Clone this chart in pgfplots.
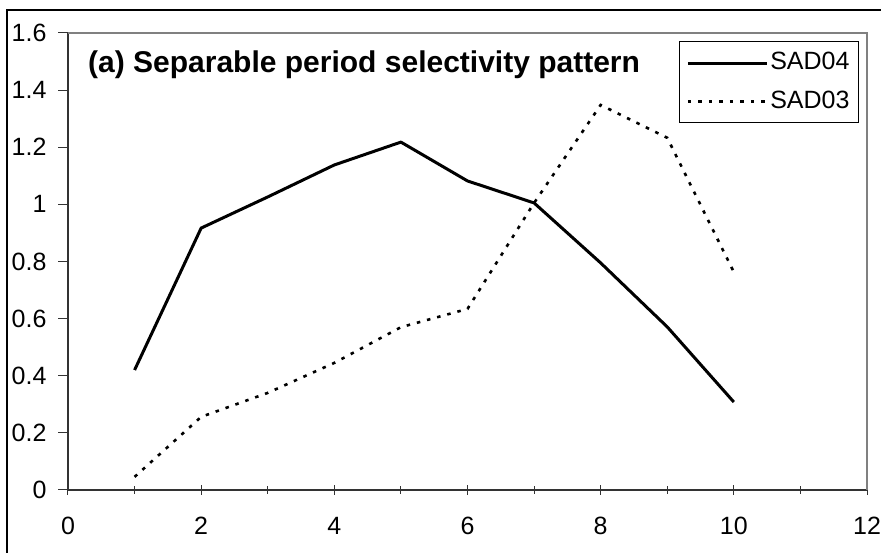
\documentclass[border=0pt]{standalone}
\usepackage{fontspec}
\setmainfont{Liberation Sans}
\usepackage{pgfplots}
\pgfplotsset{compat=1.18}
\begin{document}
\fontsize{25}{30}\selectfont
\begin{tikzpicture}
\useasboundingbox (-68pt,-63pt) rectangle (813pt,490pt);
\draw[line width=1.5pt] (-61pt,-80pt) -- (-61pt,480pt) -- (830pt,480pt);
\begin{axis}[
  at={(0pt,0pt)}, anchor=south west,
  scale only axis, width=799pt, height=457pt,
  xmin=0, xmax=12, ymin=0, ymax=1.6,
  xtick={0,2,...,12}, ytick={0,0.2,...,1.6},
  minor x tick num=1,
  axis x line*=bottom, axis y line*=left,
  axis line style={line width=1.2pt, color=black!80, -},
  xtick align=center, ytick align=outside,
  major tick length=10pt, minor tick length=8pt,
  tick style={line width=1pt, color=black!80},
  every tick label/.append style={font=\fontsize{25}{30}\selectfont},
  /pgf/number format/assume math mode=true,
  yticklabel style={/pgf/number format/fixed, /pgf/number format/precision=1},
  xticklabel style={yshift=-14pt},
  yticklabel style={xshift=-3pt},
  legend style={at={(0.99,0.98249)}, anchor=north east, draw=black, line width=1pt,
    font=\fontsize{25}{30}\selectfont, row sep=13pt, inner xsep=7pt, inner ysep=9pt},
  legend cell align=left,
  legend image code/.code={\draw[#1] (0pt,0pt) -- (79pt,0pt);},
  clip=false,
]
\draw[gray, line width=1.2pt] (rel axis cs:0,1) -- (rel axis cs:1,1) -- (rel axis cs:1,0);
\addplot[black, line width=3pt, line join=round] coordinates {
 (1,0.42) (2,0.917) (3,1.026) (4,1.138) (5,1.218) (6,1.082) (7,1.005) (8,0.795) (9,0.571) (10,0.308)};
\addlegendentry{SAD04}
\addplot[black, line width=2.6pt, dash pattern=on 3.5pt off 7pt] coordinates {
 (1,0.046) (2,0.256) (3,0.34) (4,0.445) (5,0.57) (6,0.634) (7,1.005) (8,1.348) (9,1.233) (10,0.763)};
\addlegendentry{SAD03}
\node[anchor=base west, inner sep=0pt, font=\bfseries\fontsize{30}{36}\selectfont] at (rel axis cs:0.025,0.9125) {(a) Separable period selectivity pattern};
\end{axis}
\end{tikzpicture}
\end{document}
